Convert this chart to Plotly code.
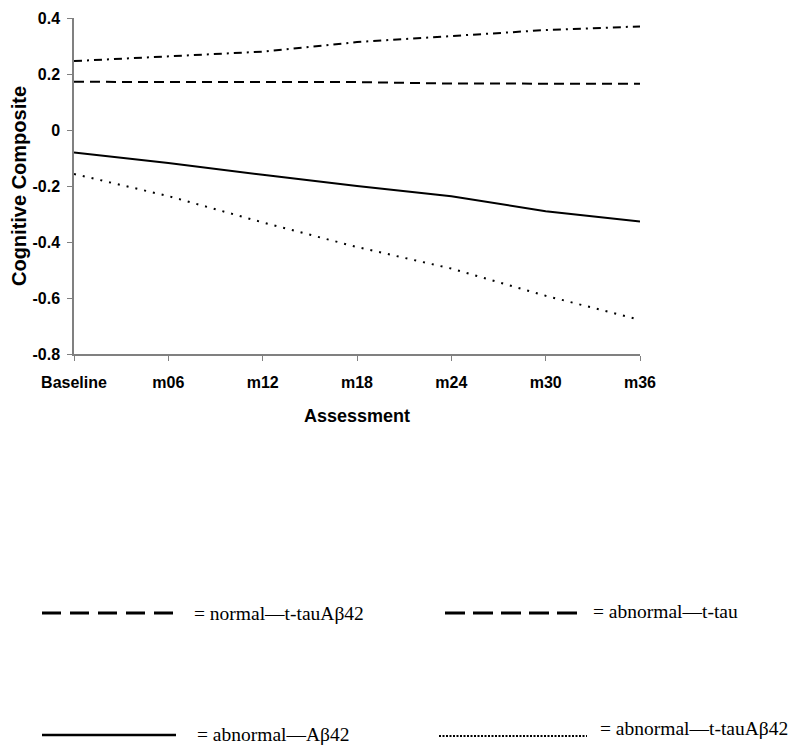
import plotly.graph_objects as go

categories = ["Baseline", "m06", "m12", "m18", "m24", "m30", "m36"]
normal_ttau_ab42 = [0.246, 0.262, 0.280, 0.314, 0.336, 0.357, 0.370]
abnormal_ttau = [0.172, 0.172, 0.172, 0.171, 0.166, 0.165, 0.165]
abnormal_ab42 = [-0.080, -0.118, -0.160, -0.200, -0.237, -0.290, -0.327]
abnormal_ttau_ab42 = [-0.157, -0.236, -0.330, -0.418, -0.495, -0.592, -0.678]
y_ticks = [0.4, 0.2, 0, -0.2, -0.4, -0.6, -0.8]
y_tick_text = ["0.4", "0.2", "0", "-0.2", "-0.4", "-0.6", "-0.8"]

legend_labels = ["= normal\u2014t-tauA\u03b242", "= abnormal\u2014t-tau",
                 "= abnormal\u2014A\u03b242", "= abnormal\u2014t-tauA\u03b242"]

x_idx = list(range(len(categories)))

# page body has an 8px margin; figure is offset accordingly
OFF = 8
W, H = 797 - OFF, 750 - OFF
pl, pr, pt, pb = 74 - OFF, 640 - OFF, 18 - OFF, 354 - OFF

fig = go.Figure()
series = [
    (normal_ttau_ab42, "8px,5px,2px,5px"),
    (abnormal_ttau, "10px,6px"),
    (abnormal_ab42, "solid"),
    (abnormal_ttau_ab42, "2px,7px"),
]
for vals, dash in series:
    fig.add_trace(go.Scatter(x=x_idx, y=vals, mode="lines",
                             line=dict(color="black", width=2, dash=dash),
                             showlegend=False, hoverinfo="skip"))

tick_font = dict(family="Liberation Sans, Arial, sans-serif", size=16,
                 color="black", weight="bold")

fig.update_layout(
    width=W, height=H,
    margin=dict(l=pl, r=W - pr, t=pt, b=H - pb),
    paper_bgcolor="white", plot_bgcolor="white",
    xaxis=dict(range=[0, 6], tickmode="array", tickvals=x_idx, ticktext=categories,
               automargin=False,
               showgrid=False, zeroline=False, showline=True, linecolor="#808080",
               linewidth=1.5, ticks="outside", ticklen=5, tickcolor="#808080",
               tickfont=tick_font, ticklabelstandoff=8,
               title=dict(text="Assessment",
                          font=dict(family="Liberation Sans, Arial, sans-serif",
                                    size=18, color="black", weight="bold"),
                          standoff=19)),
    yaxis=dict(range=[-0.8, 0.4], tickmode="array", tickvals=y_ticks, ticktext=y_tick_text,
               automargin=False,
               showgrid=False, zeroline=False, showline=True, linecolor="#808080",
               linewidth=1.5, ticks="outside", ticklen=5, tickcolor="#808080",
               tickfont=tick_font, ticklabelstandoff=4,
               title=dict(text="Cognitive Composite",
                          font=dict(family="Liberation Sans, Arial, sans-serif",
                                    size=20, color="black", weight="bold"),
                          standoff=0)),
)


def px(x):
    return (x - OFF - pl) / (pr - pl)


def py(y):
    return (pb - (y - OFF)) / (pb - pt)


legend_items = [
    (42, 173, 613, "19px,9px", 192, 613, legend_labels[0], 3),
    (445, 577, 613, "20px,8px", 591, 611, legend_labels[1], 3),
    (42, 176, 735, "solid", 195, 735, legend_labels[2], 2.5),
    (439, 587, 736, "2px,1.5px", 598, 728, legend_labels[3], 2),
]
for x0, x1, y, dash, tx, ty, label, lw in legend_items:
    fig.add_shape(type="line", xref="paper", yref="paper",
                  x0=px(x0), x1=px(x1), y0=py(y), y1=py(y),
                  line=dict(color="black", width=lw, dash=dash))
    fig.add_annotation(xref="paper", yref="paper", x=px(tx), y=py(ty),
                       xanchor="left", yanchor="middle", showarrow=False,
                       text=label,
                       font=dict(family="Liberation Serif, Times New Roman, serif",
                                 size=19.5, color="black"))

fig.write_html("out.html")
